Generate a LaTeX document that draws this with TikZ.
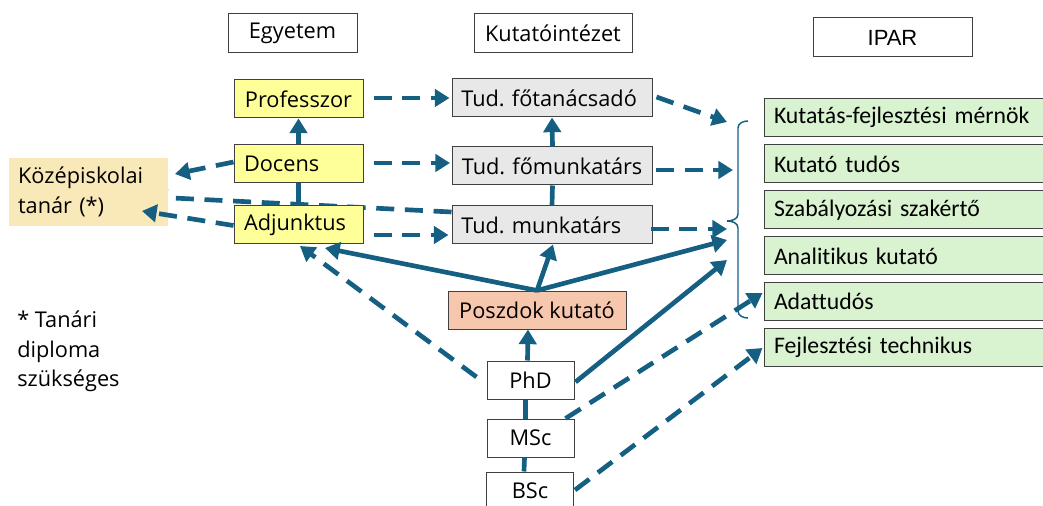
\documentclass[tikz,border=0pt]{standalone}
\usepackage{fontspec}
\setmainfont{Open Sans}[Ligatures=NoCommon]
\newfontfamily\calib{Carlito}[Ligatures=NoCommon]
\newfontfamily\arialf{Liberation Sans}
\usetikzlibrary{arrows.meta,calc}
\pgfdeclarelayer{background}
\pgfsetlayers{background,main}
\definecolor{arrc}{HTML}{156082}
\definecolor{yel}{HTML}{FFFF99}
\definecolor{gry}{HTML}{E8E8E8}
\definecolor{grn}{HTML}{D9F2D0}
\definecolor{sal}{HTML}{F6C6AD}
\definecolor{wht}{HTML}{F9E8B8}
\frenchspacing
\begin{document}
\begin{tikzpicture}[x=0.75pt,y=-0.75pt,
  every node/.style={font=\fontsize{16.3pt}{22pt}\selectfont},
  bx/.style={draw=black!75, line width=0.75pt, inner ysep=0pt, inner xsep=7.5pt, minimum height=28.5pt},
  hdr/.style={bx, minimum height=29.25pt},
  lbox/.style={bx, align=left},
  ybox/.style={lbox, fill=yel, minimum width=96.75pt, text width=81.75pt},
  gbox/.style={lbox, fill=gry, minimum width=150pt, text width=141pt, inner xsep=4.5pt},
  grbox/.style={lbox, fill=grn, minimum width=217.5pt, text width=202.5pt, font=\calib\fontsize{17.8pt}{22pt}\selectfont},
  degbox/.style={bx, minimum width=65.25pt},
  sarr/.style={draw=arrc, line width=3.5pt, -{Triangle[length=11pt,width=13pt]}},
  sline/.style={draw=arrc, line width=3.5pt},
  darr/.style={sarr, dash pattern=on 13.5pt off 8pt},
  brace/.style={draw=arrc, line width=1.1pt}
]
\useasboundingbox (0,0) rectangle (1043,506);

% header boxes
\node[hdr, minimum width=96.75pt] (egy) at (292.5,33.5) {Egyetem};
\node[hdr, minimum width=118.5pt] (kut) at (553,33.5) {Kutatóintézet};
\node[hdr, minimum width=119.25pt, font=\arialf\fontsize{16.5pt}{18pt}\selectfont] (ipar) at (892.5,37.5) {IPAR};

% university
\node[ybox, align=center] (prof) at (298.5,99) {Professzor};
\node[ybox] (doc) at (298.5,164) {Docens};
\node[ybox] (adj) at (298.5,224.5) {Adjunktus};

% teacher
\node[fill=wht, inner sep=0pt, inner xsep=6.75pt, minimum width=119.25pt, minimum height=51pt, text width=105.75pt, align=left] (koz) at (88.5,192) {Középiskolai\\tanár (*)};

% research institute
\node[gbox] (ft) at (552,98) {\hspace*{2.5pt}Tud. főtanácsadó};
\node[gbox] (fm) at (552.5,166) {\hspace*{2.5pt}Tud. főmunkatárs};
\node[gbox] (tm) at (552,225) {\hspace*{2.5pt}Tud. munkatárs};

% postdoc and degrees
\node[bx, fill=sal, minimum width=133.5pt] (posz) at (537,310) {Poszdok kutató};
\node[degbox] (phd) at (530.5,380) {PhD};
\node[degbox] (msc) at (530.5,438) {MSc};
\node[degbox] (bsc) at (530,491) {BSc};

% industry
\node[grbox] (g1) at (909,117.5) {Kutatás-fejlesztési mérnök};
\node[grbox] (g2) at (909,164) {Kutató tudós};
\node[grbox] (g3) at (909,210) {Szabályozási szakértő};
\node[grbox] (g4) at (909,256) {Analitikus kutató};
\node[grbox] (g5) at (909,301.5) {Adattudós};
\node[grbox] (g6) at (909,347.5) {Fejlesztési technikus};

% footnote
\node[anchor=north west, align=left, inner sep=0pt] (note) at (17,311) {* Tanári\\diploma\\szükséges};

% brace
\draw[brace] (748,121) to[out=180,in=90] (738,128) -- (738,214) to[out=-90,in=0] (727,221)
  to[out=0,in=90] (738,228) -- (738,311) to[out=-90,in=180] (748,318);

% named free ends
\coordinate (t1) at (727,122);
\coordinate (t2) at (733,170);
\coordinate (t3) at (727,229);
\coordinate (t4) at (727,240);
\coordinate (t5) at (727,260);
\coordinate (adjA) at (325,248);
\coordinate (adjB) at (300,246);
\coordinate (kozA) at (175,174);
\coordinate (kozB) at (153,197);
\coordinate (kozC) at (142,211);

% connectors
\begin{pgfonlayer}{background}
\draw[darr] ($(tm.west)+(0,-13)$) -- (kozB);
\end{pgfonlayer}
\draw[sarr] (doc.north) -- (prof.south);
\draw[sline] (adj.north) -- (doc.south);
\draw[sarr] (fm.north) -- (ft.south);
\draw[sline] (tm.north) -- (fm.south);

\draw[darr] ($(prof.east)+(10,-1)$) -- ($(ft.west)+(-2,0)$);
\draw[darr] ($(doc.east)+(10,-1)$) -- ($(fm.west)+(-2,-3)$);
\draw[darr] ($(adj.east)+(10,10.5)$) -- ($(tm.west)+(-3,10)$);

\draw[darr] ($(doc.west)+(0,-2)$) -- (kozA);
\draw[darr] ($(adj.west)+(0,1)$) -- (kozC);

\draw[darr] ($(ft.east)+(4,-1)$) -- (t1);
\draw[darr] ($(fm.east)+(3,4)$) -- (t2);
\draw[darr] ($(tm.east)+(-2,4)$) -- (t3);

\draw[sarr] (posz.north) -- (adjA);
\draw[sarr] (posz.north) -- ($(tm.south)+(1,0)$);
\draw[sarr] (posz.north) -- (t4);

\draw[sarr] ($(phd.north)+(-3,0)$) -- ($(posz.south)+(-9,0)$);
\draw[sarr] ($(phd.east)+(1,2)$) -- (t5);
\draw[darr] ($(phd.west)+(-10,-3)$) -- (adjB);
\draw[sline] ($(msc.north)+(-5,0)$) -- ($(phd.south)+(-5,0)$);
\draw[sline] ($(bsc.north)+(-6,0)$) -- ($(msc.south)+(-6,0)$);

\draw[darr] ($(msc.north east)+(-9,0)$) -- ($(g5.west)+(-1,-8.5)$);
\draw[darr] ($(bsc.east)+(1,-1)$) -- ($(g6.west)+(-1,0.5)$);
\end{tikzpicture}
\end{document}
